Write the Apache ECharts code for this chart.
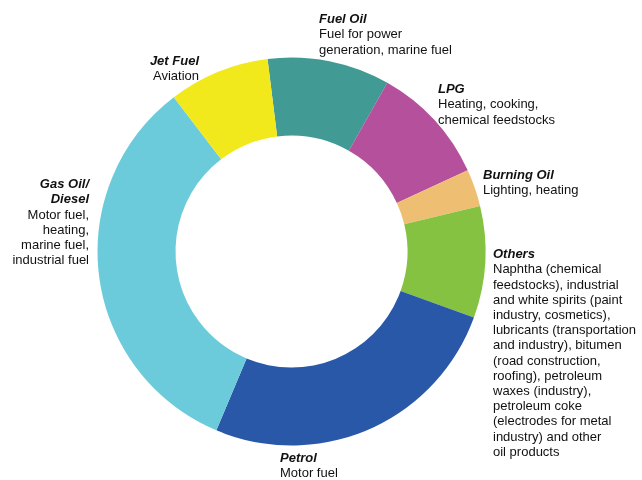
<!DOCTYPE html>
<html>
<head>
<meta charset="utf-8">
<script src="https://cdn.jsdelivr.net/npm/echarts@6/dist/echarts.min.js"></script>
<style>
  html, body { margin: 0; padding: 0; background: #ffffff; }
  #chart { width: 642px; height: 480px; }
</style>
</head>
<body>
<div id="chart"></div>
<script>
// Refinery products: share of output (%), clockwise from the top
const products = ['Fuel Oil', 'LPG', 'Burning Oil', 'Others', 'Petrol', 'Gas Oil/\nDiesel', 'Jet Fuel'];
const shares = [10.2, 9.9, 3.1, 9.3, 25.8, 33.3, 8.4];
const uses = [
  'Fuel for power\ngeneration, marine fuel',
  'Heating, cooking,\nchemical feedstocks',
  'Lighting, heating',
  'Naphtha (chemical\nfeedstocks), industrial\nand white spirits (paint\nindustry, cosmetics),\nlubricants (transportation\nand industry), bitumen\n(road construction,\nroofing), petroleum\nwaxes (industry),\npetroleum coke\n(electrodes for metal\nindustry) and other\noil products',
  'Motor fuel',
  'Motor fuel,\nheating,\nmarine fuel,\nindustrial fuel',
  'Aviation'
];
const colors = ['#419a93', '#b5519c', '#eebf72', '#86c241', '#2858a7', '#6ccbdb', '#f2e91c'];

// Where each caption block sits (top edge) and how it is aligned
const captionSpots = [
  { x: 319, y: 12, align: 'left' },
  { x: 438, y: 82, align: 'left' },
  { x: 483, y: 168, align: 'left' },
  { x: 493, y: 247, align: 'left' },
  { x: 280, y: 451, align: 'left' },
  { x: 89, y: 177, align: 'right' },
  { x: 199, y: 54, align: 'right' }
];

const chart = echarts.init(document.getElementById('chart'), null, { renderer: 'canvas' });

const data = products.map((name, i) => ({
  name: name,
  value: shares[i],
  itemStyle: { color: colors[i] },
  label: { align: captionSpots[i].align }
}));

chart.setOption({
  animation: false,
  backgroundColor: '#ffffff',
  series: [{
    type: 'pie',
    center: [291.5, 251.5],
    radius: [116, 194],
    startAngle: 97.1,
    clockwise: true,
    avoidLabelOverlap: false,
    silent: true,
    itemStyle: { borderWidth: 0 },
    labelLine: { show: false },
    label: {
      show: true,
      position: 'outside',
      fontFamily: 'Liberation Sans, Arial, sans-serif',
      formatter: (p) => '{t|' + p.name + '}\n{d|' + uses[p.dataIndex] + '}',
      rich: {
        t: {
          fontFamily: 'Liberation Sans, Arial, sans-serif',
          fontSize: 13,
          fontWeight: 'bold',
          fontStyle: 'italic',
          color: '#111111',
          lineHeight: 15.2
        },
        d: {
          fontFamily: 'Liberation Sans, Arial, sans-serif',
          fontSize: 13,
          color: '#111111',
          lineHeight: 15.2
        }
      }
    },
    labelLayout: (params) => {
      const s = captionSpots[params.dataIndex];
      return { x: s.x, y: s.y, align: s.align, verticalAlign: 'top' };
    },
    data: data
  }]
});
</script>
</body>
</html>
